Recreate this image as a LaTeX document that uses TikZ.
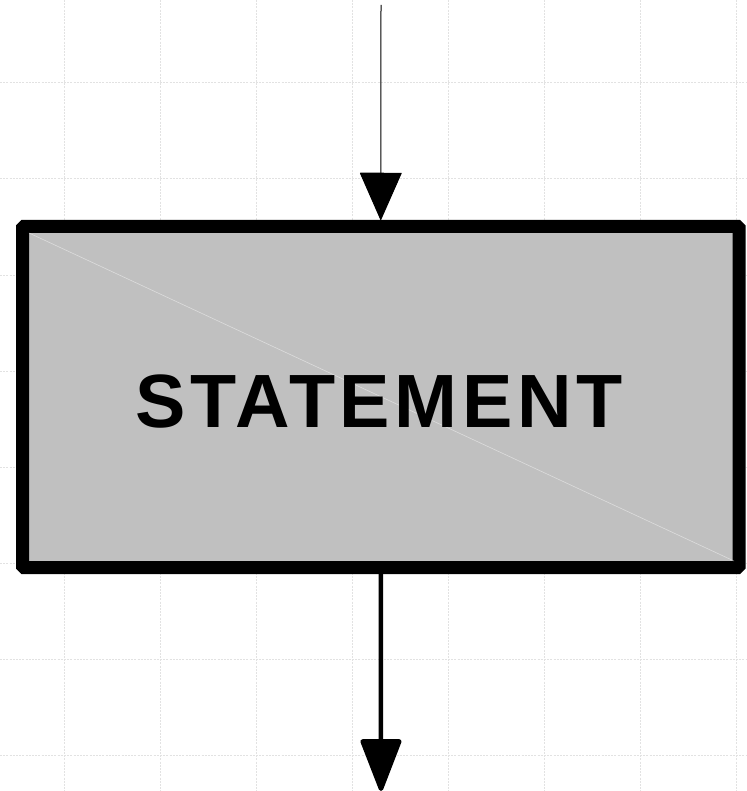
\documentclass[tikz,border=0pt]{standalone}
\usepackage{fontspec}
\setmainfont{Liberation Sans}
\newfontfamily\labelfont[LetterSpace=6]{Liberation Sans}
\usetikzlibrary{arrows.meta}
\definecolor{gridgray}{HTML}{E2E2E2}
\definecolor{boxgray}{HTML}{C0C0C0}
\tikzset{
  gridline/.style={gridgray, line width=1pt, dash pattern=on 2pt off 1.2pt},
  stmtbox/.style={draw=black, fill=boxgray, line width=13pt, rounded corners=1.5pt,
    minimum width=716.5pt, minimum height=341pt, inner sep=0pt},
  thinflow/.style={line width=1pt, -{Triangle[length=48pt, width=42pt, round]}},
  thickflow/.style={line width=4.5pt, -{Triangle[length=56pt, width=42pt, round]}},
}
\begin{document}
\begin{tikzpicture}[x=1pt, y=-1pt]
  \useasboundingbox (0,0) rectangle (746,791);
  \fill[white] (0,0) rectangle (746,791);
  \foreach \gx in {64,160,256,352,448,544,640,736}
    \draw[gridline] (\gx,0) -- (\gx,791);
  \foreach \gy in {83,179,275,371,467,563,659,755}
    \draw[gridline] (0,\gy) -- (746,\gy);
  \node[stmtbox] (stmt) at (380.75,397) {};
  \draw[white, opacity=0.45, line width=0.6pt] (29,233) -- (734,561);
  \node[font=\labelfont\bfseries\fontsize{75.5}{80}\selectfont, inner sep=0pt, anchor=base] (lbl) at (379,427) {STATEMENT};
  \coordinate (top) at (381,5);
  \coordinate (bottom) at (381,791);
  \draw[thinflow] (top) -- (stmt.north);
  \draw[thickflow] (stmt.south) -- (bottom);
\end{tikzpicture}
\end{document}
